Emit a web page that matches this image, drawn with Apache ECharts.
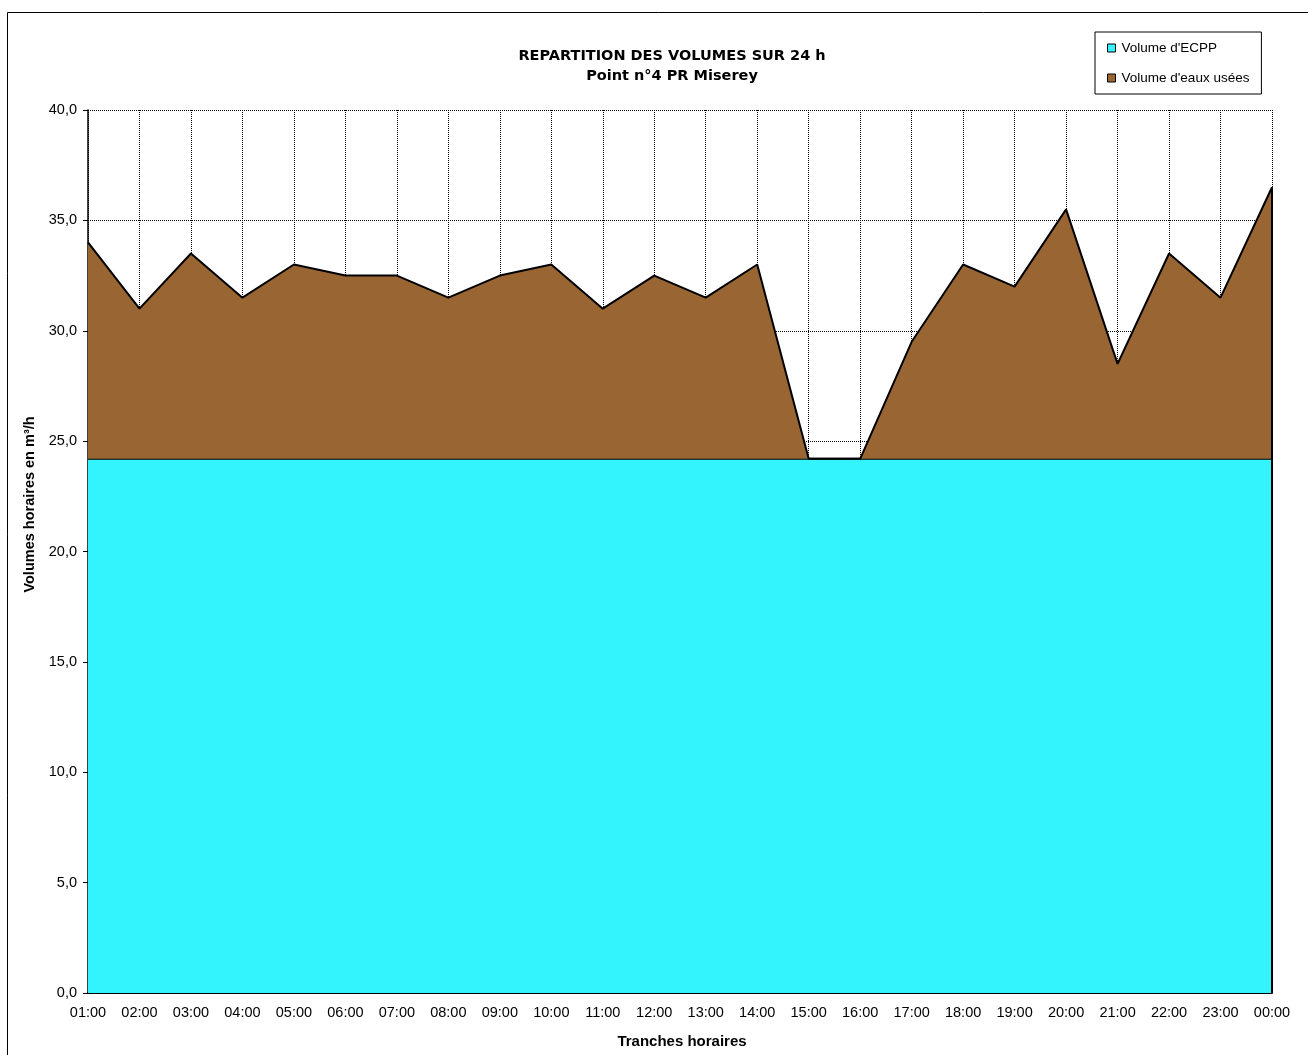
<!DOCTYPE html>
<html>
<head>
<meta charset="utf-8">
<script src="https://cdn.jsdelivr.net/npm/echarts@6/dist/echarts.min.js"></script>
<style>html,body{margin:0;padding:0;background:#fff}#c{width:1308px;height:1055px}</style>
</head>
<body>
<div id="c"></div>
<script>
var categories = ['01:00','02:00','03:00','04:00','05:00','06:00','07:00','08:00','09:00','10:00','11:00','12:00','13:00','14:00','15:00','16:00','17:00','18:00','19:00','20:00','21:00','22:00','23:00','00:00'];
var ecpp = [24.2,24.2,24.2,24.2,24.2,24.2,24.2,24.2,24.2,24.2,24.2,24.2,24.2,24.2,24.2,24.2,24.2,24.2,24.2,24.2,24.2,24.2,24.2,24.2];
var eauxUsees = [9.8,6.8,9.3,7.3,8.8,8.3,8.3,7.3,8.3,8.8,6.8,8.3,7.3,8.8,0,0,5.3,8.8,7.8,11.3,4.3,9.3,7.3,12.3];
var yTicks = [0,5,10,15,20,25,30,35,40];

var lastIdx = categories.length - 1;
var lastTotal = +(ecpp[lastIdx] + eauxUsees[lastIdx]).toFixed(2);
var font = 'Liberation Sans';
var chart = echarts.init(document.getElementById('c'));
chart.setOption({
  animation: false,
  backgroundColor: '#fff',
  graphic: [{type:'rect', shape:{x:7.5,y:12.5,width:1320,height:1100}, style:{fill:null, stroke:'#000', lineWidth:1}, z:0}],
  title: {
    text: 'REPARTITION DES VOLUMES SUR 24 h\nPoint n°4 PR Miserey',
    left: 667, top: 41, textAlign: 'center',
    textStyle: {fontFamily: 'DejaVu Sans', fontWeight: 'bold', fontSize: 14.5, lineHeight: 20, color: '#000'}
  },
  legend: {
    orient: 'vertical', left: 1095, top: 32, width: 150,
    padding: [9, 12, 9, 12], itemGap: 16,
    borderColor: '#000', borderWidth: 1, backgroundColor: '#fff',
    itemWidth: 8, itemHeight: 8, icon: 'rect',
    textStyle: {fontFamily: font, fontSize: 13.5, color: '#000', padding:[0,0,0,1]},
    data: [
      {name: "Volume d'ECPP", itemStyle: {color: '#33F3FC', borderColor: '#000', borderWidth: 1}},
      {name: "Volume d'eaux usées", itemStyle: {color: '#996633', borderColor: '#000', borderWidth: 1}}
    ]
  },
  grid: {left: 88, right: 36, top: 110, bottom: 62},
  xAxis: {
    type: 'category', data: categories, boundaryGap: false,
    name: 'Tranches horaires', nameLocation: 'middle', nameGap: 41,
    nameTextStyle: {fontFamily: font, fontWeight: 'bold', fontSize: 15, color: '#000', padding: [0, 0, 0, 4]},
    axisLine: {lineStyle: {color: '#000', width: 2}},
    axisTick: {show: true, inside: true, length: 6, lineStyle: {color: '#000'}},
    axisLabel: {fontFamily: font, fontSize: 14.5, color: '#000', margin: 12, interval: 0},
    splitLine: {show: true, interval: 0, lineStyle: {color: '#000', type: [1, 1], width: 1}}
  },
  yAxis: {
    type: 'value', min: 0, max: 40, interval: 5,
    name: 'Volumes horaires en m³/h', nameLocation: 'middle', nameGap: 43,
    nameTextStyle: {fontFamily: font, fontWeight: 'bold', fontSize: 14.5, color: '#000', padding: [0, 0, 0, 94]},
    axisLine: {show: true, lineStyle: {color: '#000', width: 1.5}},
    axisTick: {show: true, length: 5, lineStyle: {color: '#000'}},
    axisLabel: {fontFamily: font, fontSize: 14.5, color: '#000', margin: 11,
      formatter: function (v) { return yTicks.indexOf(v) >= 0 ? v.toFixed(1).replace('.', ',') : ''; }},
    splitLine: {show: true, lineStyle: {color: '#000', type: [1, 1], width: 1}}
  },
  series: [
    {name: "Volume d'ECPP", type: 'line', stack: 'v', data: ecpp, symbol: 'none',
     lineStyle: {color: '#000', width: 2}, itemStyle: {color: '#33F3FC'},
     areaStyle: {color: '#33F3FC', opacity: 1}, z: 2},
    {name: "Volume d'eaux usées", type: 'line', stack: 'v', data: eauxUsees, symbol: 'none',
     lineStyle: {color: '#000', width: 2}, itemStyle: {color: '#996633'},
     areaStyle: {color: '#996633', opacity: 1}, z: 3,
     markLine: {silent: true, symbol: 'none', label: {show: false},
       lineStyle: {color: '#000', width: 2, type: 'solid'},
       data: [[{coord: [categories[lastIdx], 0]}, {coord: [categories[lastIdx], lastTotal]}]]}}
  ]
});
</script>
</body>
</html>
